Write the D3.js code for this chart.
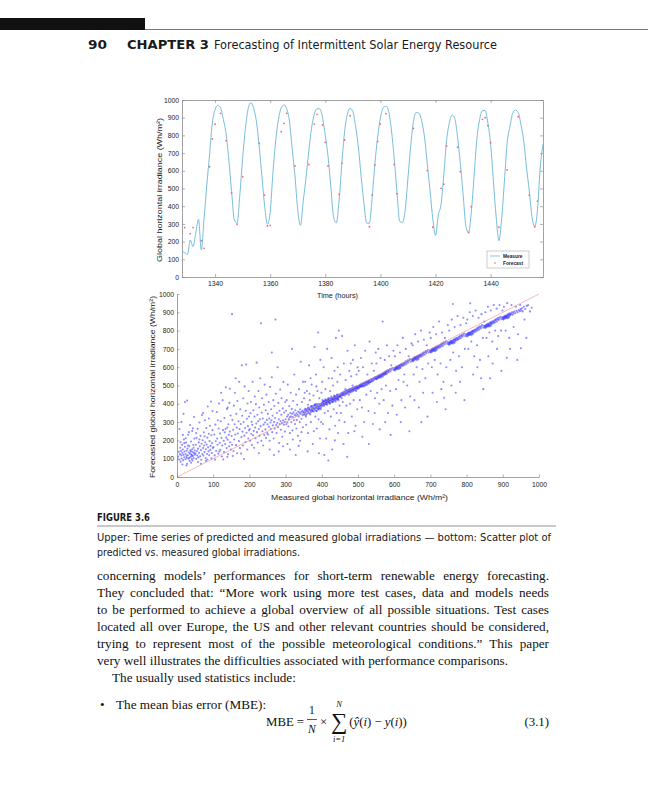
<!DOCTYPE html>
<meta charset="utf-8">
<script src="https://d3js.org/d3.v7.min.js"></script>
<style>
  body { margin: 0; background: #fff; }
  svg { display: block; }
</style>
<body>
</body>
<script>
// ---- data ----
// upper plot: hourly measured irradiance, hours 1328 .. 1459
var hourStart = 1328;
var measured = [
  143, 138, 128, 209, 171, 250, 326, 153, 330, 520,
  690, 870, 945, 970, 955, 890, 810, 660, 482, 322,
  305, 467, 670, 840, 950, 985, 953, 880, 740, 570,
  400, 298, 365, 590, 770, 890, 955, 972, 950, 880,
  720, 570, 380, 292, 430, 560, 710, 840, 920, 950,
  950, 900, 800, 680, 510, 340, 305, 430, 640, 820,
  920, 953, 935, 850, 735, 570, 420, 305, 303, 450,
  640, 790, 900, 955, 965, 935, 830, 670, 480, 315,
  308, 380, 560, 740, 880, 930, 925, 880, 790, 640,
  490, 330, 235, 350, 410, 576, 770, 870, 915, 895,
  790, 640, 470, 290, 250, 370, 570, 780, 890, 940,
  940, 870, 750, 540, 340, 205, 330, 540, 760, 850,
  925, 943, 930, 860, 770, 620, 490, 340, 284, 380,
  620, 750
];
var forecastHours = [1329, 1331, 1332, 1335, 1336, 1338, 1339, 1340, 1342, 1344,
  1346, 1348, 1350, 1356, 1358, 1359, 1360, 1364, 1365, 1366,
  1369, 1374, 1376, 1377, 1379, 1380, 1381, 1385, 1386, 1387,
  1389, 1396, 1397, 1398, 1399, 1400, 1402, 1405, 1406, 1412,
  1417, 1419, 1422, 1423, 1424, 1428, 1429, 1432, 1433, 1437,
  1438, 1439, 1440, 1443, 1446, 1450, 1454, 1456, 1457];
var forecastValues = [279, 245, 279, 205, 162, 623, 780, 863, 925, 770,
  475, 298, 567, 755, 463, 288, 292, 821, 868, 925,
  627, 636, 864, 919, 859, 761, 627, 467, 642, 774,
  911, 284, 463, 633, 765, 864, 923, 636, 471, 840,
  601, 281, 501, 524, 740, 733, 595, 252, 397, 891,
  900, 855, 759, 281, 605, 906, 463, 284, 429];
var timeTicks = [1340, 1360, 1380, 1400, 1420, 1440];
var irrTicks = [0, 100, 200, 300, 400, 500, 600, 700, 800, 900, 1000];

// lower plot: [measured, forecasted]
var scatterPts = [
  // 0-50
  [3,112],[5,138],[6,96],[8,125],[9,160],[10,84],[11,142],[12,118],[13,101],[14,176],[15,132],[16,150],[17,92],[18,121],[19,205],[20,108],[21,139],[22,165],[23,97],[24,126],[25,188],[26,114],[27,143],[28,72],[29,156],[30,119],[31,231],[32,101],[33,134],[34,168],[35,88],[36,127],[37,146],[38,110],[39,194],[40,123],[41,98],[42,152],[43,137],[44,115],[45,175],[46,104],[47,131],[48,210],[49,122],[7,262],[12,301],[18,345],[22,410],[28,418],[36,284],[42,252],[47,328],[15,68],[26,63],[33,245],[39,78],[44,266],[20,185],[30,172],[38,140],[46,160],[10,190],[16,230],[24,212],[34,105],[41,118],[49,145],[27,104],[43,90],
  // 50-100
  [51,128],[52,176],[53,99],[54,214],[55,141],[56,118],[57,263],[58,155],[59,107],[60,189],[61,132],[62,298],[63,168],[64,113],[65,225],[66,147],[67,94],[68,182],[69,339],[70,126],[71,201],[72,158],[73,117],[74,244],[75,172],[76,136],[77,310],[78,190],[79,104],[80,152],[81,268],[82,178],[83,126],[84,215],[85,385],[86,162],[87,140],[88,236],[89,119],[90,196],[91,280],[92,148],[93,170],[94,412],[95,228],[96,131],[97,185],[98,256],[99,158],[53,240],[58,82],[66,72],[72,350],[80,88],[88,320],[95,102],[62,205],[76,222],[84,96],[98,360],
  // 100-150
  [101,164],[103,232],[104,118],[106,286],[107,195],[108,142],[110,355],[111,210],[112,176],[114,128],[115,265],[116,402],[118,187],[119,238],[120,149],[121,305],[123,214],[124,112],[125,172],[126,420],[127,256],[129,198],[130,136],[131,322],[132,244],[133,180],[135,490],[136,215],[137,158],[138,372],[139,270],[140,204],[141,124],[142,288],[143,230],[144,168],[145,405],[146,248],[147,190],[148,336],[149,150],[105,95],[113,310],[122,460],[128,96],[134,262],[140,380],[117,140],[139,110],[146,482],
  // 150-200
  [152,890],[151,224],[152,176],[153,312],[155,258],[156,142],[157,390],[158,205],[159,288],[160,460],[161,232],[163,174],[164,345],[165,270],[166,130],[167,415],[168,238],[170,305],[171,196],[172,520],[173,262],[174,158],[175,370],[176,290],[178,218],[179,610],[180,335],[181,248],[182,172],[183,430],[184,300],[186,226],[187,495],[188,268],[189,190],[190,362],[191,615],[192,242],[193,318],[194,150],[195,402],[196,278],[197,210],[198,470],[199,330],[154,115],[162,540],[177,128],[185,98],[199,255],
  // 200-250
  [201,262],[202,198],[203,348],[204,410],[205,236],[206,302],[207,175],[208,285],[209,520],[210,228],[211,365],[212,252],[213,160],[214,330],[215,440],[216,270],[217,212],[218,398],[219,292],[220,625],[221,245],[222,340],[223,188],[224,305],[225,470],[226,262],[227,380],[228,225],[229,315],[230,540],[232,840],[231,278],[233,198],[234,352],[235,430],[236,250],[237,320],[238,172],[239,286],[240,395],[241,230],[242,505],[243,298],[244,260],[245,365],[246,214],[247,450],[248,312],[249,240],[226,130],
  // 250-300
  [250,288],[251,345],[252,232],[253,410],[254,275],[255,320],[256,198],[257,492],[258,298],[259,262],[260,370],[261,310],[262,545],[263,245],[264,335],[265,282],[266,420],[267,210],[268,300],[269,388],[270,265],[272,860],[271,322],[273,455],[274,284],[275,240],[276,350],[277,296],[278,600],[279,272],[280,405],[281,315],[282,186],[283,362],[284,290],[285,478],[286,305],[287,258],[288,340],[289,430],[290,295],[291,220],[292,375],[293,310],[294,520],[295,285],[296,352],[297,300],[298,248],[299,410],[256,150],[268,120],[281,140],[293,168],[262,680],
  // 300-350
  [300,315],[301,362],[302,288],[303,420],[304,330],[305,298],[306,505],[307,340],[308,276],[309,315],[310,388],[311,326],[312,240],[313,350],[314,460],[315,330],[316,300],[317,372],[318,345],[319,255],[320,328],[321,415],[322,352],[323,310],[324,560],[325,340],[326,290],[327,365],[328,335],[329,450],[330,348],[331,312],[332,395],[333,340],[334,225],[335,358],[336,330],[337,480],[338,352],[339,300],[340,370],[341,345],[342,630],[343,355],[344,318],[345,410],[346,362],[347,338],[348,520],[349,355],[305,180],[312,150],[320,205],[328,120],[336,170],[344,245],[318,700],[330,265],[340,198],[348,272],
  // 350-400
  [350,352],[351,340],[352,365],[353,348],[354,372],[355,356],[356,338],[357,368],[358,360],[359,345],[360,372],[361,358],[362,380],[363,352],[364,366],[365,375],[366,348],[367,370],[368,362],[369,384],[370,366],[371,355],[372,378],[373,370],[374,388],[375,362],[376,380],[377,372],[378,358],[379,390],[380,376],[381,368],[382,392],[383,380],[384,362],[385,386],[386,378],[387,398],[388,372],[389,390],[390,384],[391,368],[392,400],[393,386],[394,376],[395,395],[396,388],[397,370],[398,402],[399,392],[356,330],[362,395],[368,342],[374,360],[380,395],[386,360],[392,375],[398,380],[371,388],[383,398],
  [351,430],[354,520],[357,285],[359,470],[362,240],[365,610],[367,420],[370,300],[372,505],[375,180],[377,445],[380,710],[382,330],[384,560],[386,265],[388,470],[390,790],[391,315],[393,430],[395,210],[396,640],[398,300],[353,460],[361,140],[369,540],[378,250],[385,495],[392,130],[399,460],[366,455],
  // 400-450
  [400,396],[401,405],[402,388],[403,410],[404,398],[405,402],[406,415],[407,396],[408,408],[409,418],[410,402],[411,412],[412,398],[413,420],[414,408],[415,414],[416,402],[417,425],[418,410],[419,420],[420,408],[421,428],[422,416],[423,405],[424,430],[425,418],[426,424],[427,410],[428,432],[429,420],[430,426],[431,412],[432,436],[433,424],[434,418],[435,440],[436,428],[437,432],[438,420],[439,442],[440,430],[441,436],[442,424],[443,446],[444,434],[445,440],[446,428],[447,450],[448,438],[449,444],[402,420],[406,390],[410,425],[414,395],[418,432],[422,400],[426,440],[430,410],[434,445],[438,412],[442,450],[446,420],[404,412],[412,410],[420,418],[428,425],[436,438],[444,428],[416,418],[432,430],
  [401,520],[403,290],[405,600],[408,350],[410,480],[412,210],[415,700],[417,360],[419,540],[421,260],[423,470],[425,330],[427,650],[429,150],[431,500],[433,370],[435,580],[437,280],[439,760],[441,350],[443,520],[445,240],[447,800],[449,390],[407,120],[418,90],[428,540],[436,200],[444,600],[448,310],
  // 450-500
  [450,440],[451,452],[452,438],[453,448],[454,458],[455,444],[456,454],[457,462],[458,448],[459,458],[460,450],[461,466],[462,456],[463,446],[464,462],[465,470],[466,458],[467,452],[468,468],[469,474],[470,462],[471,456],[472,472],[473,466],[474,478],[475,464],[476,472],[477,480],[478,468],[479,462],[480,476],[481,484],[482,472],[483,466],[484,480],[485,488],[486,476],[487,470],[488,486],[489,478],[490,492],[491,482],[492,474],[493,490],[494,484],[495,496],[496,486],[497,480],[498,494],[499,488],[455,430],[465,480],[475,450],[485,500],[495,470],
  [451,560],[453,350],[456,770],[458,410],[461,620],[463,300],[466,530],[468,390],[471,690],[473,240],[476,580],[478,400],[481,550],[483,330],[486,640],[488,420],[491,720],[493,280],[496,560],[498,370],[460,180],[470,110],[480,620],[490,250],[499,600],
  // 500-550
  [500,488],[501,496],[502,484],[503,494],[504,502],[505,490],[506,498],[507,506],[508,494],[509,502],[510,496],[511,510],[512,500],[513,494],[514,508],[515,514],[516,502],[517,496],[518,512],[519,518],[520,506],[521,500],[522,516],[523,522],[524,510],[525,504],[526,520],[527,514],[528,526],[529,518],[530,510],[531,524],[532,530],[533,516],[534,522],[536,534],[537,520],[538,528],[540,536],[541,524],[543,540],[544,530],[546,538],[547,546],[549,536],
  [502,580],[505,420],[508,650],[511,380],[514,600],[517,300],[520,690],[523,450],[526,560],[529,360],[532,740],[535,470],[538,620],[541,290],[544,580],[547,430],[549,680],[512,220],[530,180],[546,350],
  // 550-600
  [550,538],[551,546],[552,534],[553,544],[554,552],[555,540],[556,548],[557,556],[558,542],[559,552],[560,546],[561,558],[562,550],[563,544],[564,560],[565,552],[566,564],[567,556],[568,548],[569,562],[570,568],[571,556],[572,564],[573,572],[574,560],[575,568],[576,576],[577,562],[578,572],[579,580],[580,566],[582,576],[583,584],[585,572],[586,582],[588,590],[590,578],[592,588],[595,596],[598,586],
  [551,620],[553,460],[556,700],[559,400],[562,650],[565,480],[568,850],[571,420],[574,640],[577,500],[580,720],[583,350],[586,660],[589,470],[592,610],[595,390],[598,690],[560,260],[575,300],[590,230],
  // 600-650
  [600,586],[601,594],[602,582],[603,592],[604,600],[605,588],[606,596],[607,604],[608,590],[609,600],[610,594],[611,606],[612,598],[613,590],[614,606],[615,612],[616,600],[617,594],[618,610],[619,616],[620,604],[622,612],[623,620],[625,608],[626,618],[628,626],[629,614],[631,624],[632,632],[634,618],[636,630],[637,638],[639,626],[641,636],[643,644],[646,630],[648,640],
  [602,660],[605,480],[609,720],[612,530],[616,680],[620,420],[624,760],[628,560],[632,700],[636,500],[640,660],[644,440],[648,730],[607,340],[618,300],[630,380],[642,250],[626,520],
  // 650-700
  [650,636],[651,644],[652,632],[653,642],[654,650],[655,638],[656,648],[657,656],[658,642],[659,652],[660,646],[661,658],[662,650],[663,640],[664,656],[665,662],[666,650],[667,644],[668,660],[669,666],[670,654],[672,662],[673,670],[675,658],[676,668],[678,676],[679,664],[681,674],[682,682],[684,668],[686,680],[687,688],[689,676],[691,686],[693,694],[696,680],[698,690],
  [651,720],[654,560],[658,780],[662,600],[666,740],[670,520],[674,800],[678,590],[682,750],[686,540],[690,720],[694,620],[698,790],[656,420],[668,380],[680,460],[692,330],[675,300],
  // 700-750
  [700,684],[701,692],[702,680],[703,690],[704,698],[705,686],[706,694],[707,702],[708,688],[709,698],[710,692],[711,704],[712,696],[713,688],[714,704],[715,710],[716,698],[717,692],[718,708],[719,714],[720,702],[722,710],[723,718],[725,706],[726,716],[728,724],[729,712],[731,722],[732,730],[734,716],[736,728],[737,736],[739,724],[741,734],[743,742],[746,728],[748,738],
  [701,760],[704,600],[708,820],[712,640],[716,780],[720,560],[724,850],[728,620],[732,790],[736,520],[740,760],[744,600],[748,830],[706,460],[718,410],[730,480],[742,370],[738,433],
  // 750-800
  [750,726],[751,734],[752,722],[753,732],[754,740],[755,728],[756,736],[757,744],[758,730],[759,740],[760,734],[761,746],[762,738],[763,730],[764,746],[765,752],[766,740],[767,734],[768,750],[769,756],[770,744],[772,752],[773,760],[775,748],[776,758],[778,766],[779,754],[781,764],[782,772],[784,758],[786,770],[787,778],[789,766],[791,776],[793,784],[796,770],[798,780],
  [762,945],[752,800],[755,640],[759,860],[763,680],[767,820],[771,580],[775,880],[779,660],[783,830],[787,600],[791,870],[795,700],[799,840],[758,500],[770,460],[782,520],[794,420],
  // 800-850
  [800,772],[801,780],[802,768],[803,778],[804,786],[805,774],[806,782],[807,790],[808,776],[809,786],[810,780],[811,792],[812,784],[813,776],[814,792],[815,798],[816,786],[817,780],[818,796],[819,802],[820,790],[822,798],[823,806],[825,794],[826,804],[828,812],[829,800],[831,810],[832,818],[834,804],[836,816],[837,824],[839,812],[841,822],[843,830],[846,816],[848,826],
  [810,949],[802,860],[805,700],[809,900],[813,740],[817,880],[821,660],[825,910],[829,720],[833,870],[837,640],[841,890],[845,760],[849,850],[840,540],[818,560],[830,600],[846,480],
  // 850-900
  [850,818],[851,826],[852,814],[853,824],[854,832],[855,820],[856,828],[857,836],[858,822],[859,832],[860,826],[861,838],[862,830],[863,822],[864,838],[865,844],[866,832],[867,826],[868,842],[869,848],[870,836],[872,844],[873,852],[875,840],[876,850],[878,858],[879,846],[881,856],[882,864],[884,850],[886,862],[887,870],[889,858],[891,868],[893,876],[896,862],[898,872],
  [852,900],[855,760],[859,930],[863,790],[867,910],[871,740],[875,940],[879,800],[883,920],[887,770],[891,940],[895,800],[899,910],[860,660],[872,620],[884,700],[896,580],[865,540],
  // 900-950
  [900,864],[901,872],[902,860],[903,870],[904,878],[905,866],[906,874],[907,882],[908,868],[909,878],[910,872],[911,884],[912,876],[913,868],[914,884],[915,890],[916,878],[917,872],[918,888],[919,894],[920,882],[922,890],[924,898],[926,886],[928,900],[930,892],[932,904],[935,896],[938,908],[941,900],[944,912],[947,906],[949,918],
  [903,930],[908,800],[912,950],[918,760],[924,940],[930,820],[936,930],[942,780],[948,940],[911,651],[920,700],[940,640],
  // 950-1000
  [951,910],[953,922],[955,905],[958,930],[962,918],[966,935],[950,703],[960,860],[970,940],[965,760],[975,905],[980,925]
];
var scatterTicks = [0, 100, 200, 300, 400, 500, 600, 700, 800, 900, 1000];

var sansFont = "'Liberation Sans', Arial, sans-serif";
var narrowFont = "'Liberation Sans Narrow', 'DejaVu Sans Condensed', 'Liberation Sans', sans-serif";
var serifFont = "'Liberation Serif', 'Times New Roman', serif";

var svg = d3.select("body").append("svg")
    .attr("width", 648)
    .attr("height", 800);

svg.append("rect").attr("width", 648).attr("height", 800).attr("fill", "#fff");

// ---- running head ----
svg.append("rect").attr("x", 0).attr("y", 18).attr("width", 145).attr("height", 12).attr("fill", "#111");
svg.append("line").attr("x1", 145).attr("x2", 648).attr("y1", 29.5).attr("y2", 29.5)
    .attr("stroke", "#777").attr("stroke-width", 1);

function fitText(x, y, str, width, size, weight, family) {
    return svg.append("text")
        .attr("x", x).attr("y", y)
        .attr("font-family", family || narrowFont)
        .attr("font-size", size)
        .attr("font-weight", weight || "normal")
        .attr("fill", "#1a1a1a")
        .attr("textLength", width)
        .attr("lengthAdjust", "spacingAndGlyphs")
        .text(str);
}
fitText(88, 49, "90", 19, 13, "bold");
fitText(127, 49, "CHAPTER 3", 82, 13, "bold");
fitText(214, 49, "Forecasting of Intermittent Solar Energy Resource", 283, 13, "normal");

// ---- upper plot: time series ----
var tsX = d3.scaleLinear().domain([1328, 1459]).range([182, 543]);
var tsY = d3.scaleLinear().domain([0, 1000]).range([277, 100]);
var plain = d3.format("d");

function styleAxis(g) {
    g.attr("font-family", sansFont).attr("font-size", 6.8);
    g.select(".domain").attr("stroke", "#7a7a7a").attr("stroke-width", 0.7);
    g.selectAll(".tick line").attr("stroke", "#7a7a7a").attr("stroke-width", 0.6);
    g.selectAll(".tick text").attr("fill", "#222");
}

svg.append("g").attr("transform", "translate(0,277)")
    .call(d3.axisBottom(tsX).tickValues(timeTicks).tickFormat(plain)
        .tickSizeInner(-3).tickSizeOuter(0).tickPadding(4))
    .call(styleAxis);
svg.append("g").attr("transform", "translate(0,100)")
    .call(d3.axisTop(tsX).tickValues(timeTicks).tickSizeInner(-3).tickSizeOuter(0).tickFormat(""))
    .call(styleAxis);
svg.append("g").attr("transform", "translate(182,0)")
    .call(d3.axisLeft(tsY).tickValues(irrTicks).tickFormat(plain)
        .tickSizeInner(-3).tickSizeOuter(0).tickPadding(3))
    .call(styleAxis);
svg.append("g").attr("transform", "translate(543,0)")
    .call(d3.axisRight(tsY).tickValues(irrTicks).tickSizeInner(-3).tickSizeOuter(0).tickFormat(""))
    .call(styleAxis);

var measuredLine = d3.line()
    .x(function(d, i) { return tsX(hourStart + i); })
    .y(function(d) { return tsY(d); })
    .curve(d3.curveMonotoneX);

svg.append("path")
    .datum(measured)
    .attr("d", measuredLine)
    .attr("fill", "none")
    .attr("stroke", "#66b5d8")
    .attr("stroke-width", 0.9);

svg.append("g").selectAll("circle")
    .data(forecastValues)
    .join("circle")
    .attr("cx", function(d, i) { return tsX(forecastHours[i]); })
    .attr("cy", function(d) { return tsY(d); })
    .attr("r", 0.9)
    .attr("fill", "#ee6a78");

// legend
var lg = svg.append("g").attr("transform", "translate(487,251)");
lg.append("rect").attr("width", 42).attr("height", 17).attr("fill", "#fff")
    .attr("stroke", "#999").attr("stroke-width", 0.5);
lg.append("line").attr("x1", 3).attr("x2", 13).attr("y1", 5).attr("y2", 5)
    .attr("stroke", "#66b5d8").attr("stroke-width", 0.8);
lg.append("circle").attr("cx", 8).attr("cy", 12).attr("r", 0.8).attr("fill", "#ee6a78");
lg.append("text").attr("x", 16).attr("y", 6.8).attr("font-family", sansFont)
    .attr("font-size", 4.8).attr("font-weight", "bold").attr("fill", "#222").text("Measure");
lg.append("text").attr("x", 16).attr("y", 13.8).attr("font-family", sansFont)
    .attr("font-size", 4.8).attr("font-weight", "bold").attr("fill", "#222").text("Forecast");

// axis titles
fitText(317, 297.5, "Time (hours)", 41, 7.6, "normal", sansFont);
svg.append("text")
    .attr("transform", "translate(162,190) rotate(-90)")
    .attr("text-anchor", "middle")
    .attr("font-family", sansFont)
    .attr("font-size", 7.6)
    .attr("fill", "#1a1a1a")
    .attr("textLength", 144)
    .attr("lengthAdjust", "spacingAndGlyphs")
    .text("Global horizontal irradiance (Wh/m\u00b2)");

// ---- lower plot: scatter ----
var scX = d3.scaleLinear().domain([0, 1000]).range([177, 539]);
var scY = d3.scaleLinear().domain([0, 1000]).range([477, 294]);

svg.append("g").selectAll("circle")
    .data(scatterPts)
    .join("circle")
    .attr("cx", function(d) { return scX(d[0]); })
    .attr("cy", function(d) { return scY(d[1]); })
    .attr("r", 1.05)
    .attr("fill", "#1c1cff")
    .attr("fill-opacity", 0.5);

svg.append("line")
    .attr("x1", scX(0)).attr("y1", scY(0))
    .attr("x2", scX(1000)).attr("y2", scY(1000))
    .attr("stroke", "#f07a7a").attr("stroke-width", 0.6).attr("stroke-opacity", 0.9);

svg.append("g").attr("transform", "translate(0,477)")
    .call(d3.axisBottom(scX).tickValues(scatterTicks).tickFormat(plain)
        .tickSizeInner(-2.5).tickSizeOuter(0).tickPadding(5))
    .call(styleAxis);
svg.append("g").attr("transform", "translate(177,0)")
    .call(d3.axisLeft(scY).tickValues(scatterTicks).tickFormat(plain)
        .tickSizeInner(-2.5).tickSizeOuter(0).tickPadding(3))
    .call(styleAxis);

svg.append("text")
    .attr("x", 271).attr("y", 500)
    .attr("font-family", sansFont).attr("font-size", 7.8).attr("fill", "#1a1a1a")
    .attr("textLength", 177).attr("lengthAdjust", "spacingAndGlyphs")
    .text("Measured global horizontal irradiance (Wh/m\u00b2)");
svg.append("text")
    .attr("transform", "translate(155,387) rotate(-90)")
    .attr("text-anchor", "middle")
    .attr("font-family", sansFont).attr("font-size", 7.8).attr("fill", "#1a1a1a")
    .attr("textLength", 182).attr("lengthAdjust", "spacingAndGlyphs")
    .text("Forecasted global horizontal irradiance (Wh/m\u00b2)");

// ---- caption ----
fitText(97, 521, "FIGURE 3.6", 53, 10.5, "bold");
svg.append("line").attr("x1", 97).attr("x2", 556).attr("y1", 526).attr("y2", 526)
    .attr("stroke", "#777").attr("stroke-width", 0.8);
fitText(97, 541, "Upper: Time series of predicted and measured global irradiations \u2014 bottom: Scatter plot of", 454, 11);
fitText(97, 556, "predicted vs. measured global irradiations.", 203, 11);

// ---- body text ----
var bodyLines = [
    {x: 97, y: 580, w: 452, t: "concerning models\u2019 performances for short-term renewable energy forecasting."},
    {x: 97, y: 597, w: 452, t: "They concluded that: \u201cMore work using more test cases, data and models needs"},
    {x: 97, y: 614, w: 452, t: "to be performed to achieve a global overview of all possible situations. Test cases"},
    {x: 97, y: 631, w: 452, t: "located all over Europe, the US and other relevant countries should be considered,"},
    {x: 97, y: 648, w: 452, t: "trying to represent most of the possible meteorological conditions.\u201d This paper"},
    {x: 97, y: 665, w: 0, t: "very well illustrates the difficulties associated with performance comparisons."},
    {x: 112, y: 682, w: 0, t: "The usually used statistics include:"},
    {x: 116, y: 709, w: 0, t: "The mean bias error (MBE):"}
];
bodyLines.forEach(function(l) {
    var t = svg.append("text")
        .attr("x", l.x).attr("y", l.y)
        .attr("font-family", serifFont).attr("font-size", 13.2)
        .attr("fill", "#111")
        .text(l.t);
    if (l.w) {
        var natural = t.node().getComputedTextLength();
        var gaps = l.t.split(" ").length - 1;
        t.attr("word-spacing", (l.w - natural) / gaps);
    }
});
svg.append("text").attr("x", 100).attr("y", 709).attr("font-family", serifFont)
    .attr("font-size", 13.2).attr("fill", "#111").text("\u2022");

// equation (3.1), laid out left to right from measured widths
var eq = svg.append("g").attr("font-family", serifFont).attr("fill", "#111");
var eqBase = 726;
var cur = 266;
function eqText(str, size, gap) {
    var t = eq.append("text").attr("x", cur).attr("y", eqBase).attr("font-size", size).text(str);
    cur += t.node().getComputedTextLength() + gap;
    return t;
}
eqText("MBE", 12.8, 3);
eqText("=", 12.8, 3);
var fracC = cur + 5;
eq.append("text").attr("x", fracC).attr("y", 714).attr("font-size", 11.5).attr("text-anchor", "middle").text("1");
eq.append("line").attr("x1", fracC - 5).attr("x2", fracC + 5).attr("y1", 719.5).attr("y2", 719.5)
    .attr("stroke", "#111").attr("stroke-width", 0.7);
eq.append("text").attr("x", fracC).attr("y", 733).attr("font-size", 11.5).attr("font-style", "italic")
    .attr("text-anchor", "middle").text("N");
cur += 13;
eqText("\u00d7", 12.8, 3);
var sumC = cur + 9;
eq.append("text").attr("x", sumC).attr("y", 729).attr("font-size", 23).attr("text-anchor", "middle").text("\u2211");
eq.append("text").attr("x", sumC).attr("y", 707).attr("font-size", 8.5).attr("font-style", "italic")
    .attr("text-anchor", "middle").text("N");
eq.append("text").attr("x", sumC).attr("y", 742).attr("font-size", 8.5).attr("font-style", "italic")
    .attr("text-anchor", "middle").text("i=1");
cur += 19;
var rhs = eq.append("text").attr("x", cur).attr("y", eqBase).attr("font-size", 12.8);
rhs.append("tspan").text("(");
rhs.append("tspan").attr("font-style", "italic").text("\u0177");
rhs.append("tspan").text("(");
rhs.append("tspan").attr("font-style", "italic").text("i");
rhs.append("tspan").text(") \u2212 ");
rhs.append("tspan").attr("font-style", "italic").text("y");
rhs.append("tspan").text("(");
rhs.append("tspan").attr("font-style", "italic").text("i");
rhs.append("tspan").text("))");
eq.append("text").attr("x", 549).attr("y", eqBase).attr("font-size", 12.8).attr("text-anchor", "end").text("(3.1)");
</script>
